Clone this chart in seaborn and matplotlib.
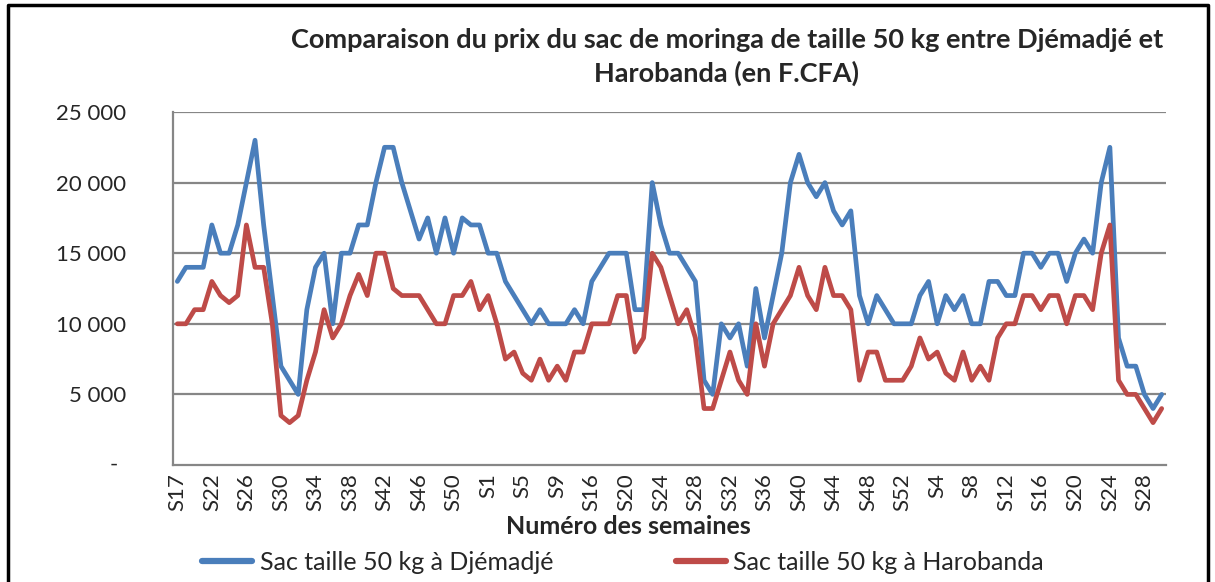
import numpy as np
import pandas as pd
import matplotlib
matplotlib.use("Agg")
import matplotlib.pyplot as plt
import seaborn as sns

# ── data ──────────────────────────────────────────────────────────────────────
DJEMADJE = [
    13000, 14000, 14000, 14000, 17000, 15000, 15000, 17000, 20000, 23000,
    17000, 12000, 7000, 6000, 5000, 11000, 14000, 15000, 10000, 15000,
    15000, 17000, 17000, 20000, 22500, 22500, 20000, 18000, 16000, 17500,
    15000, 17500, 15000, 17500, 17000, 17000, 15000, 15000, 13000, 12000,
    11000, 10000, 11000, 10000, 10000, 10000, 11000, 10000, 13000, 14000,
    15000, 15000, 15000, 11000, 11000, 20000, 17000, 15000, 15000, 14000,
    13000, 6000, 5000, 10000, 9000, 10000, 7000, 12500, 9000, 12000,
    15000, 20000, 22000, 20000, 19000, 20000, 18000, 17000, 18000, 12000,
    10000, 12000, 11000, 10000, 10000, 10000, 12000, 13000, 10000, 12000,
    11000, 12000, 10000, 10000, 13000, 13000, 12000, 12000, 15000, 15000,
    14000, 15000, 15000, 13000, 15000, 16000, 15000, 20000, 22500, 9000,
    7000, 7000, 5000, 4000, 5000,
]
HAROBANDA = [
    10000, 10000, 11000, 11000, 13000, 12000, 11500, 12000, 17000, 14000,
    14000, 10000, 3500, 3000, 3500, 6000, 8000, 11000, 9000, 10000,
    12000, 13500, 12000, 15000, 15000, 12500, 12000, 12000, 12000, 11000,
    10000, 10000, 12000, 12000, 13000, 11000, 12000, 10000, 7500, 8000,
    6500, 6000, 7500, 6000, 7000, 6000, 8000, 8000, 10000, 10000,
    10000, 12000, 12000, 8000, 9000, 15000, 14000, 12000, 10000, 11000,
    9000, 4000, 4000, 6000, 8000, 6000, 5000, 10000, 7000, 10000,
    11000, 12000, 14000, 12000, 11000, 14000, 12000, 12000, 11000, 6000,
    8000, 8000, 6000, 6000, 6000, 7000, 9000, 7500, 8000, 6500,
    6000, 8000, 6000, 7000, 6000, 9000, 10000, 10000, 12000, 12000,
    11000, 12000, 12000, 10000, 12000, 12000, 11000, 15000, 17000, 6000,
    5000, 5000, 4000, 3000, 4000,
]
# week labels shown on the axis (one every 4 categories)
WEEK_LABELS = ["S17", "S22", "S26", "S30", "S34", "S38", "S42", "S46", "S50",
               "S1", "S5", "S9", "S16", "S20", "S24", "S28", "S32", "S36",
               "S40", "S44", "S48", "S52", "S4", "S8", "S12", "S16", "S20",
               "S24", "S28"]
Y_TICKS = [0, 5000, 10000, 15000, 20000, 25000]
Y_LABELS = ["", "5 000", "10 000", "15 000", "20 000", "25 000"]
ZERO_LABEL = "-"
SERIES = ["Sac taille 50 kg à Djémadjé", "Sac taille 50 kg à Harobanda"]
BLUE, RED, GRID = "#4A7EBB", "#BE4B48", "#868686"

n = len(DJEMADJE)
df = pd.DataFrame({
    "idx": list(range(n)) * 2,
    "prix": DJEMADJE + HAROBANDA,
    "serie": [SERIES[0]] * n + [SERIES[1]] * n,
})

# ── figure ────────────────────────────────────────────────────────────────────
sns.set_style("white")
plt.rcParams["font.family"] = ["Lato", "DejaVu Sans"]

fig = plt.figure(figsize=(12.15, 5.82), dpi=100)
ax = fig.add_axes([173 / 1215, 1 - 465 / 582, (1166 - 173) / 1215, (465 - 112) / 582])

for y in Y_TICKS[1:]:
    ax.axhline(y, color=GRID, linewidth=1.6, zorder=1)

sns.lineplot(data=df, x="idx", y="prix", hue="serie",
             palette=[BLUE, RED], linewidth=3.4, ax=ax, legend=False, zorder=3)

ax.set_xlim(-0.5, n - 0.5)
ax.set_ylim(0, 25000)
ax.set_yticks(Y_TICKS)
ax.set_yticklabels(Y_LABELS, fontsize=16)
ax.tick_params(axis="y", length=6, width=1.6, color=GRID, pad=28)
# Excel accounting format: the zero dash sits left of the number column
ax.annotate(ZERO_LABEL, xy=(0, Y_TICKS[0]), xycoords=ax.get_yaxis_transform(),
            xytext=(-43, 0), textcoords="offset points",
            ha="center", va="center", fontsize=16, annotation_clip=False)

ax.set_xticks(np.arange(0, n, 4))
ax.set_xticklabels(WEEK_LABELS, rotation=90, fontsize=16)
ax.set_xticks(np.arange(-0.5, n, 1), minor=True)
ax.tick_params(axis="x", which="major", length=0, pad=6)
ax.tick_params(axis="x", which="minor", length=5, width=1.2, color=GRID)

for side in ["top", "right"]:
    ax.spines[side].set_visible(False)
for side in ["left", "bottom"]:
    ax.spines[side].set_color(GRID)
    ax.spines[side].set_linewidth(1.6)

ax.set_xlabel("")
ax.set_ylabel("")

fig.text(727 / 1215, 1 - 40 / 582,
         "Comparaison du prix du sac de moringa de taille 50 kg entre Djémadjé et",
         ha="center", va="center", fontsize=19.5, fontweight="bold")
fig.text(727 / 1215, 1 - 73 / 582, "Harobanda (en F.CFA)",
         ha="center", va="center", fontsize=19.5, fontweight="bold")
fig.text(628 / 1215, 1 - 527 / 582, "Numéro des semaines",
         ha="center", va="center", fontsize=18, fontweight="bold")

handles = [plt.Line2D([0], [0], color=BLUE, linewidth=4.5),
           plt.Line2D([0], [0], color=RED, linewidth=4.5)]
fig.legend(handles, SERIES, loc="center left", bbox_to_anchor=(202 / 1215, 1 - 562 / 582),
           ncol=2, frameon=False, fontsize=18, handlelength=2.0, handletextpad=0.3,
           columnspacing=4.9, borderaxespad=0, borderpad=0)

# outer chart frame
fig.add_artist(plt.Line2D([8 / 1215, 8 / 1215, 1208 / 1215, 1208 / 1215],
                          [0, 1 - 5 / 582, 1 - 5 / 582, 0],
                          transform=fig.transFigure, color="black", linewidth=2.5))

fig.savefig("out.png", dpi=100)
